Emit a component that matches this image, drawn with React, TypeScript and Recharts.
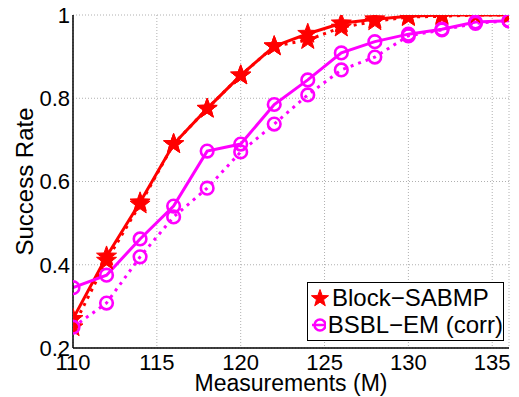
import React from 'react';
import {
  LineChart,
  Line,
  XAxis,
  YAxis,
  CartesianGrid,
  Legend,
} from 'recharts';

// measurements (M)
const measurements = [110, 112, 114, 116, 118, 120, 122, 124, 126, 128, 130, 132, 134, 136];

// success rate
const sabmpSolid = [0.27, 0.42, 0.55, 0.69, 0.775, 0.855, 0.925, 0.955, 0.98, 0.99, 0.997, 1, 1, 1];
const sabmpDotted = [0.25, 0.41, 0.545, 0.69, 0.775, 0.855, 0.925, 0.94, 0.97, 0.985, 0.995, 0.997, 1, 1];
const bsblSolid = [0.345, 0.375, 0.462, 0.541, 0.673, 0.69, 0.785, 0.844, 0.909, 0.936, 0.954, 0.966, 0.983, 0.986];
const bsblDotted = [0.25, 0.308, 0.419, 0.515, 0.584, 0.671, 0.738, 0.808, 0.868, 0.899, 0.95, 0.964, 0.98, 0.986];

const xTicks = [110, 115, 120, 125, 130, 135];
const yTicks = [0.2, 0.4, 0.6, 0.8, 1];

// legend order as in the figure
const legendOrder = ['sabmpSolid', 'bsblSolid'];

const RED = '#ff0000';
const MAGENTA = '#ff00ff';
const FONT = '"Liberation Sans", Arial, Helvetica, sans-serif';

const data = measurements.map((m, i) => ({
  m,
  sabmpSolid: sabmpSolid[i],
  sabmpDotted: sabmpDotted[i],
  bsblSolid: bsblSolid[i],
  bsblDotted: bsblDotted[i],
}));

function starPoints(cx: number, cy: number, R: number, r: number) {
  const pts: string[] = [];
  for (let k = 0; k < 10; k++) {
    const rad = k % 2 === 0 ? R : r;
    const a = -Math.PI / 2 + (k * Math.PI) / 5;
    pts.push(`${cx + rad * Math.cos(a)},${cy + rad * Math.sin(a)}`);
  }
  return pts.join(' ');
}

const starDot = (props: any) => {
  const { cx, cy, key } = props;
  if (cx == null || cy == null) return <g key={key} />;
  return (
    <polygon
      key={key}
      points={starPoints(cx, cy, 10.5, 4.3)}
      fill={RED}
      stroke={RED}
      strokeWidth={1}
      strokeDasharray="none"
    />
  );
};

const circleDot = (props: any) => {
  const { cx, cy, key } = props;
  if (cx == null || cy == null) return <g key={key} />;
  return (
    <circle
      key={key}
      cx={cx}
      cy={cy}
      r={6.3}
      fill="none"
      stroke={MAGENTA}
      strokeWidth={2.6}
      strokeDasharray="none"
    />
  );
};

const LegendIcon = ({ kind }: { kind: string }) => (
  <svg width={20} height={20} style={{ display: 'block' }}>
    {kind === 'star' ? (
      <polygon points={starPoints(10, 10.5, 9, 3.7)} fill={RED} stroke={RED} />
    ) : (
      <g>
        <line x1={2} y1={10} x2={18} y2={10} stroke={MAGENTA} strokeWidth={2.5} />
        <circle cx={10} cy={10} r={5.5} fill="none" stroke={MAGENTA} strokeWidth={2.5} />
      </g>
    )}
  </svg>
);

const renderLegend = (props: any) => {
  const items = (props.payload || [])
    .filter((p: any) => legendOrder.includes(p.dataKey))
    .sort((a: any, b: any) => legendOrder.indexOf(a.dataKey) - legendOrder.indexOf(b.dataKey));
  return (
    <div
      style={{
        boxSizing: 'border-box',
        width: '100%',
        height: '100%',
        border: '1.5px solid #000',
        background: '#fff',
        padding: '1px 0 0 2px',
        fontFamily: FONT,
        fontSize: 24,
        color: '#000',
      }}
    >
      {items.map((p: any) => (
        <div key={p.value} style={{ display: 'flex', alignItems: 'center', height: 27 }}>
          <LegendIcon kind={p.dataKey === 'sabmpSolid' ? 'star' : 'circle'} />
          <span style={{ marginLeft: 2, whiteSpace: 'nowrap' }}>{p.value}</span>
        </div>
      ))}
    </div>
  );
};

export default function App() {
  const tickStyle = { fontSize: 22, fill: '#000', fontFamily: FONT };
  return (
    <div style={{ position: 'absolute', left: 0, top: 0, width: 519, height: 397, background: '#fff' }}>
      <LineChart
        width={519}
        height={397}
        data={data}
        margin={{ top: 15, right: 10, bottom: 0, left: 0 }}
      >
        <CartesianGrid stroke="#b0b0b0" strokeDasharray="1 2" strokeWidth={1} />
        <XAxis
          dataKey="m"
          type="number"
          domain={[110, 136]}
          ticks={xTicks}
          allowDataOverflow
          height={49}
          tickLine={false}
          tickSize={0}
          tickMargin={6}
          tick={tickStyle}
          axisLine={{ stroke: '#000', strokeWidth: 1.5 }}
          label={{
            value: 'Measurements (M)',
            position: 'insideBottom',
            offset: 6,
            style: { fontSize: 23, fill: '#000', fontFamily: FONT },
          }}
        />
        <YAxis
          type="number"
          domain={[0.2, 1]}
          ticks={yTicks}
          allowDataOverflow
          width={73}
          tickLine={false}
          tickSize={0}
          tickMargin={3}
          tick={tickStyle}
          tickFormatter={(v: number) => String(Number(v.toFixed(1)))}
          axisLine={{ stroke: '#000', strokeWidth: 1.5 }}
          label={{
            value: 'Success Rate',
            angle: -90,
            position: 'insideLeft',
            offset: 24,
            style: { fontSize: 24, fill: '#000', fontFamily: FONT, textAnchor: 'middle' },
          }}
        />
        {/* frame + inward ticks, like the original figure */}
        <XAxis xAxisId="top" orientation="top" mirror height={0} type="number" domain={[110, 136]} ticks={xTicks} allowDataOverflow tick={false} tickSize={5} axisLine={{ stroke: '#000', strokeWidth: 1.5 }} tickLine={{ stroke: '#000' }} />
        <XAxis xAxisId="bottomIn" orientation="bottom" mirror height={0} type="number" domain={[110, 136]} ticks={xTicks} allowDataOverflow tick={false} tickSize={5} axisLine={false} tickLine={{ stroke: '#000' }} />
        <YAxis yAxisId="right" orientation="right" mirror width={0} type="number" domain={[0.2, 1]} ticks={yTicks} allowDataOverflow tick={false} tickSize={5} axisLine={{ stroke: '#000', strokeWidth: 1.5 }} tickLine={{ stroke: '#000' }} />
        <YAxis yAxisId="leftIn" orientation="left" mirror width={0} type="number" domain={[0.2, 1]} ticks={yTicks} allowDataOverflow tick={false} tickSize={5} axisLine={false} tickLine={{ stroke: '#000' }} />
        <Legend
          layout="vertical"
          align="center"
          verticalAlign="middle"
          content={renderLegend}
          wrapperStyle={{ left: 307, top: 282, width: 197, height: 59 }}
        />
        <Line
          dataKey="sabmpSolid"
          name="Block−SABMP"
          type="linear"
          stroke={RED}
          strokeWidth={3}
          dot={starDot}
          activeDot={false}
          isAnimationActive={false}
        />
        <Line
          dataKey="sabmpDotted"
          name="Block−SABMP (dotted)"
          legendType="none"
          type="linear"
          stroke={RED}
          strokeWidth={3}
          strokeDasharray="3 5"
          dot={starDot}
          activeDot={false}
          isAnimationActive={false}
        />
        <Line
          dataKey="bsblSolid"
          name="BSBL−EM (corr)"
          type="linear"
          stroke={MAGENTA}
          strokeWidth={3}
          dot={circleDot}
          activeDot={false}
          isAnimationActive={false}
        />
        <Line
          dataKey="bsblDotted"
          name="BSBL−EM (dotted)"
          legendType="none"
          type="linear"
          stroke={MAGENTA}
          strokeWidth={3}
          strokeDasharray="3 5"
          dot={circleDot}
          activeDot={false}
          isAnimationActive={false}
        />
      </LineChart>
    </div>
  );
}
